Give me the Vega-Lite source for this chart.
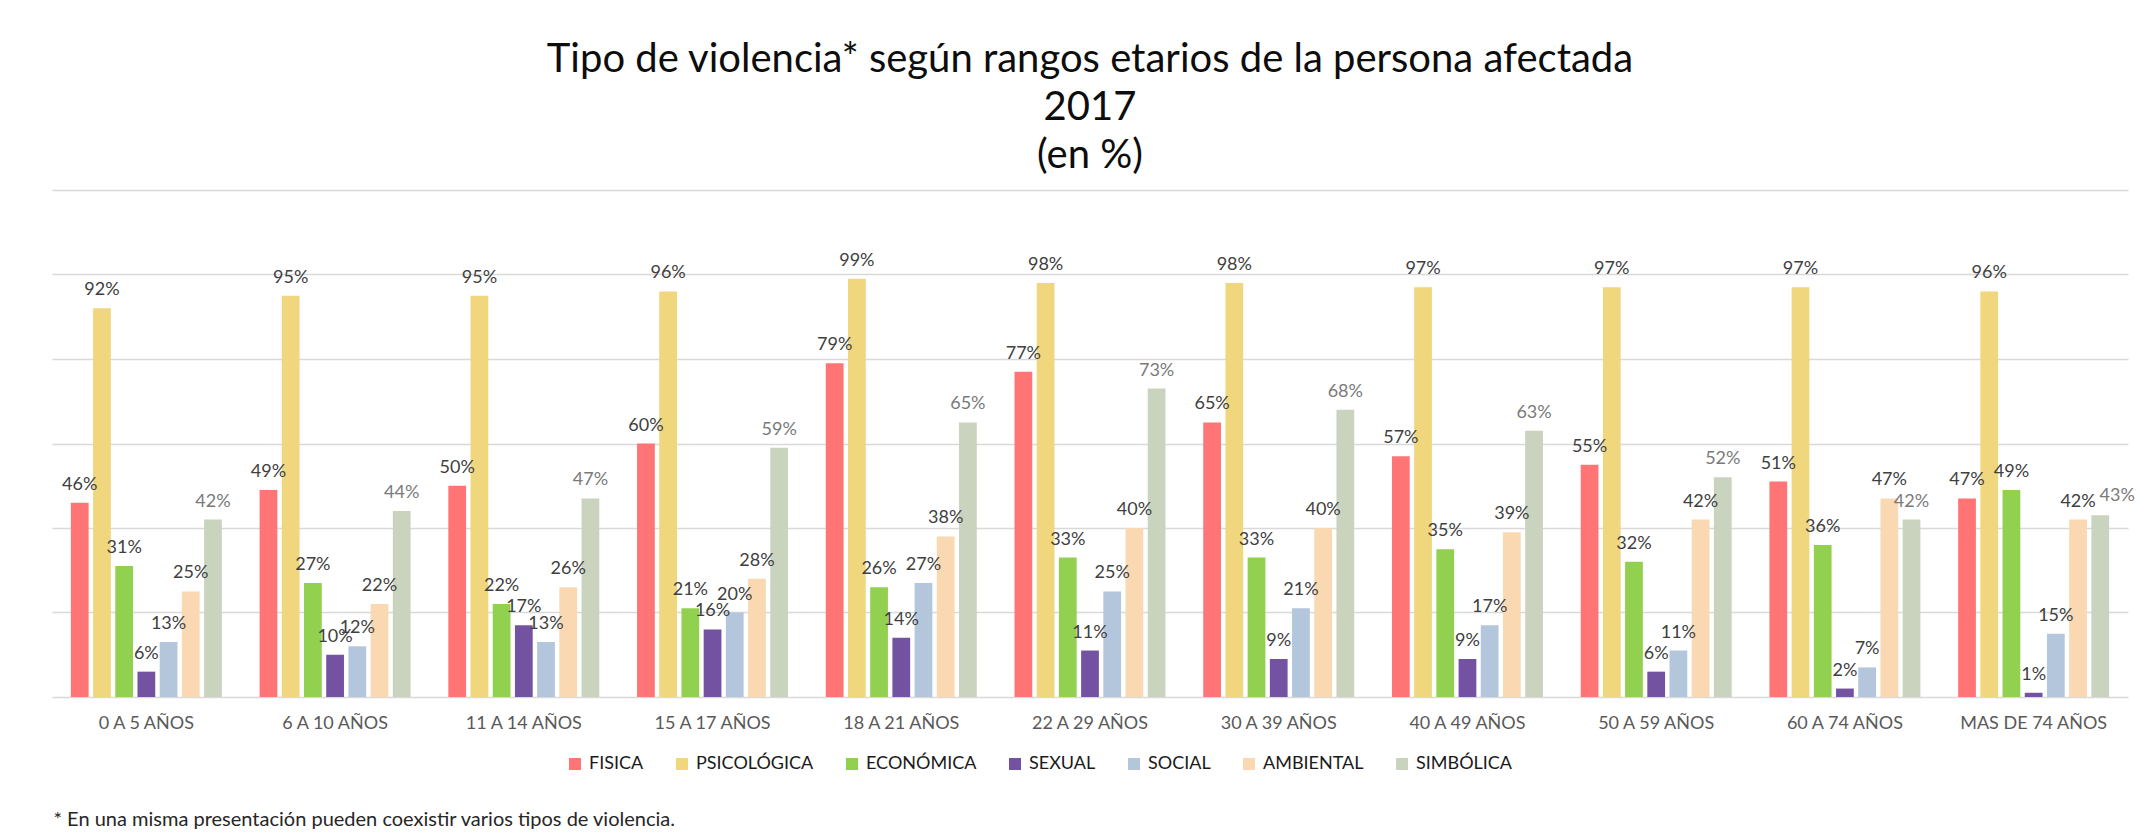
{
  "$schema": "https://vega.github.io/schema/vega-lite/v6.json",
  "autosize": "none",
  "width": 2076,
  "height": 507,
  "padding": {"left": 52, "top": 190, "right": 20, "bottom": 141},
  "background": "white",
  "title": {
    "text": ["Tipo de violencia* según rangos etarios de la persona afectada", "2017", "(en %)"],
    "font": "Lato",
    "fontSize": 40,
    "fontWeight": "normal",
    "color": "#0d0d0d",
    "lineHeight": 48,
    "anchor": "middle",
    "offset": 14
  },
  "config": {
    "view": {"stroke": null},
    "font": "Lato"
  },
  "data": {
    "values": [
      {"grupo": "0 A 5 AÑOS", "tipo": "FISICA", "valor": 0.46},
      {"grupo": "0 A 5 AÑOS", "tipo": "PSICOLÓGICA", "valor": 0.92},
      {"grupo": "0 A 5 AÑOS", "tipo": "ECONÓMICA", "valor": 0.31},
      {"grupo": "0 A 5 AÑOS", "tipo": "SEXUAL", "valor": 0.06},
      {"grupo": "0 A 5 AÑOS", "tipo": "SOCIAL", "valor": 0.13},
      {"grupo": "0 A 5 AÑOS", "tipo": "AMBIENTAL", "valor": 0.25},
      {"grupo": "0 A 5 AÑOS", "tipo": "SIMBÓLICA", "valor": 0.42},
      {"grupo": "6 A 10 AÑOS", "tipo": "FISICA", "valor": 0.49},
      {"grupo": "6 A 10 AÑOS", "tipo": "PSICOLÓGICA", "valor": 0.95},
      {"grupo": "6 A 10 AÑOS", "tipo": "ECONÓMICA", "valor": 0.27},
      {"grupo": "6 A 10 AÑOS", "tipo": "SEXUAL", "valor": 0.10},
      {"grupo": "6 A 10 AÑOS", "tipo": "SOCIAL", "valor": 0.12},
      {"grupo": "6 A 10 AÑOS", "tipo": "AMBIENTAL", "valor": 0.22},
      {"grupo": "6 A 10 AÑOS", "tipo": "SIMBÓLICA", "valor": 0.44},
      {"grupo": "11 A 14 AÑOS", "tipo": "FISICA", "valor": 0.50},
      {"grupo": "11 A 14 AÑOS", "tipo": "PSICOLÓGICA", "valor": 0.95},
      {"grupo": "11 A 14 AÑOS", "tipo": "ECONÓMICA", "valor": 0.22},
      {"grupo": "11 A 14 AÑOS", "tipo": "SEXUAL", "valor": 0.17},
      {"grupo": "11 A 14 AÑOS", "tipo": "SOCIAL", "valor": 0.13},
      {"grupo": "11 A 14 AÑOS", "tipo": "AMBIENTAL", "valor": 0.26},
      {"grupo": "11 A 14 AÑOS", "tipo": "SIMBÓLICA", "valor": 0.47},
      {"grupo": "15 A 17 AÑOS", "tipo": "FISICA", "valor": 0.60},
      {"grupo": "15 A 17 AÑOS", "tipo": "PSICOLÓGICA", "valor": 0.96},
      {"grupo": "15 A 17 AÑOS", "tipo": "ECONÓMICA", "valor": 0.21},
      {"grupo": "15 A 17 AÑOS", "tipo": "SEXUAL", "valor": 0.16},
      {"grupo": "15 A 17 AÑOS", "tipo": "SOCIAL", "valor": 0.20},
      {"grupo": "15 A 17 AÑOS", "tipo": "AMBIENTAL", "valor": 0.28},
      {"grupo": "15 A 17 AÑOS", "tipo": "SIMBÓLICA", "valor": 0.59},
      {"grupo": "18 A 21 AÑOS", "tipo": "FISICA", "valor": 0.79},
      {"grupo": "18 A 21 AÑOS", "tipo": "PSICOLÓGICA", "valor": 0.99},
      {"grupo": "18 A 21 AÑOS", "tipo": "ECONÓMICA", "valor": 0.26},
      {"grupo": "18 A 21 AÑOS", "tipo": "SEXUAL", "valor": 0.14},
      {"grupo": "18 A 21 AÑOS", "tipo": "SOCIAL", "valor": 0.27},
      {"grupo": "18 A 21 AÑOS", "tipo": "AMBIENTAL", "valor": 0.38},
      {"grupo": "18 A 21 AÑOS", "tipo": "SIMBÓLICA", "valor": 0.65},
      {"grupo": "22 A 29 AÑOS", "tipo": "FISICA", "valor": 0.77},
      {"grupo": "22 A 29 AÑOS", "tipo": "PSICOLÓGICA", "valor": 0.98},
      {"grupo": "22 A 29 AÑOS", "tipo": "ECONÓMICA", "valor": 0.33},
      {"grupo": "22 A 29 AÑOS", "tipo": "SEXUAL", "valor": 0.11},
      {"grupo": "22 A 29 AÑOS", "tipo": "SOCIAL", "valor": 0.25},
      {"grupo": "22 A 29 AÑOS", "tipo": "AMBIENTAL", "valor": 0.40},
      {"grupo": "22 A 29 AÑOS", "tipo": "SIMBÓLICA", "valor": 0.73},
      {"grupo": "30 A 39 AÑOS", "tipo": "FISICA", "valor": 0.65},
      {"grupo": "30 A 39 AÑOS", "tipo": "PSICOLÓGICA", "valor": 0.98},
      {"grupo": "30 A 39 AÑOS", "tipo": "ECONÓMICA", "valor": 0.33},
      {"grupo": "30 A 39 AÑOS", "tipo": "SEXUAL", "valor": 0.09},
      {"grupo": "30 A 39 AÑOS", "tipo": "SOCIAL", "valor": 0.21},
      {"grupo": "30 A 39 AÑOS", "tipo": "AMBIENTAL", "valor": 0.40},
      {"grupo": "30 A 39 AÑOS", "tipo": "SIMBÓLICA", "valor": 0.68},
      {"grupo": "40 A 49 AÑOS", "tipo": "FISICA", "valor": 0.57},
      {"grupo": "40 A 49 AÑOS", "tipo": "PSICOLÓGICA", "valor": 0.97},
      {"grupo": "40 A 49 AÑOS", "tipo": "ECONÓMICA", "valor": 0.35},
      {"grupo": "40 A 49 AÑOS", "tipo": "SEXUAL", "valor": 0.09},
      {"grupo": "40 A 49 AÑOS", "tipo": "SOCIAL", "valor": 0.17},
      {"grupo": "40 A 49 AÑOS", "tipo": "AMBIENTAL", "valor": 0.39},
      {"grupo": "40 A 49 AÑOS", "tipo": "SIMBÓLICA", "valor": 0.63},
      {"grupo": "50 A 59 AÑOS", "tipo": "FISICA", "valor": 0.55},
      {"grupo": "50 A 59 AÑOS", "tipo": "PSICOLÓGICA", "valor": 0.97},
      {"grupo": "50 A 59 AÑOS", "tipo": "ECONÓMICA", "valor": 0.32},
      {"grupo": "50 A 59 AÑOS", "tipo": "SEXUAL", "valor": 0.06},
      {"grupo": "50 A 59 AÑOS", "tipo": "SOCIAL", "valor": 0.11},
      {"grupo": "50 A 59 AÑOS", "tipo": "AMBIENTAL", "valor": 0.42},
      {"grupo": "50 A 59 AÑOS", "tipo": "SIMBÓLICA", "valor": 0.52},
      {"grupo": "60 A 74 AÑOS", "tipo": "FISICA", "valor": 0.51},
      {"grupo": "60 A 74 AÑOS", "tipo": "PSICOLÓGICA", "valor": 0.97},
      {"grupo": "60 A 74 AÑOS", "tipo": "ECONÓMICA", "valor": 0.36},
      {"grupo": "60 A 74 AÑOS", "tipo": "SEXUAL", "valor": 0.02},
      {"grupo": "60 A 74 AÑOS", "tipo": "SOCIAL", "valor": 0.07},
      {"grupo": "60 A 74 AÑOS", "tipo": "AMBIENTAL", "valor": 0.47},
      {"grupo": "60 A 74 AÑOS", "tipo": "SIMBÓLICA", "valor": 0.42},
      {"grupo": "MAS DE 74 AÑOS", "tipo": "FISICA", "valor": 0.47},
      {"grupo": "MAS DE 74 AÑOS", "tipo": "PSICOLÓGICA", "valor": 0.96},
      {"grupo": "MAS DE 74 AÑOS", "tipo": "ECONÓMICA", "valor": 0.49},
      {"grupo": "MAS DE 74 AÑOS", "tipo": "SEXUAL", "valor": 0.01},
      {"grupo": "MAS DE 74 AÑOS", "tipo": "SOCIAL", "valor": 0.15},
      {"grupo": "MAS DE 74 AÑOS", "tipo": "AMBIENTAL", "valor": 0.42},
      {"grupo": "MAS DE 74 AÑOS", "tipo": "SIMBÓLICA", "valor": 0.43}
    ]
  },
  "encoding": {
    "x": {
      "field": "grupo",
      "type": "nominal",
      "sort": null,
      "scale": {"paddingInner": 0.2, "paddingOuter": 0.1},
      "axis": {
        "title": "* En una misma presentación pueden coexistir varios tipos de violencia.",
        "titleFont": "Lato",
        "titleFontSize": 20,
        "titleFontWeight": "normal",
        "titleColor": "#262626",
        "titleAnchor": "start",
        "titleAlign": "left",
        "titleBaseline": "alphabetic",
        "titleX": 1,
        "titleY": 128,
        "labelAngle": 0,
        "labelFont": "Lato",
        "labelFontSize": 18,
        "labelColor": "#595959",
        "labelPadding": 17,
        "labelBaseline": "top",
        "ticks": false,
        "domain": false,
        "grid": false
      }
    },
    "xOffset": {
      "field": "tipo",
      "type": "nominal",
      "sort": ["FISICA", "PSICOLÓGICA", "ECONÓMICA", "SEXUAL", "SOCIAL", "AMBIENTAL", "SIMBÓLICA"],
      "scale": {"paddingInner": 0.2, "paddingOuter": 0}
    },
    "y": {
      "field": "valor",
      "type": "quantitative",
      "scale": {"domain": [0, 1.2], "nice": false},
      "axis": {
        "title": null,
        "values": [0, 0.2, 0.4, 0.6, 0.8, 1.0, 1.2],
        "labels": false,
        "ticks": false,
        "domain": false,
        "grid": true,
        "gridColor": "#d9d9d9",
        "gridWidth": 1.3
      }
    }
  },
  "layer": [
    {
      "mark": {"type": "bar"},
      "encoding": {
        "color": {
          "field": "tipo",
          "type": "nominal",
          "sort": ["FISICA", "PSICOLÓGICA", "ECONÓMICA", "SEXUAL", "SOCIAL", "AMBIENTAL", "SIMBÓLICA"],
          "scale": {
            "domain": ["FISICA", "PSICOLÓGICA", "ECONÓMICA", "SEXUAL", "SOCIAL", "AMBIENTAL", "SIMBÓLICA"],
            "range": ["#FF7575", "#F0D67C", "#92D050", "#7452A2", "#B4C6DC", "#FAD8B2", "#CAD3BE"]
          },
          "legend": {
            "title": null,
            "orient": "none",
            "direction": "horizontal",
            "legendX": 514,
            "legendY": 565,
            "symbolType": "square",
            "symbolSize": 144,
            "symbolStrokeWidth": 0,
            "symbolOpacity": 1,
            "labelFont": "Lato",
            "labelFontSize": 18,
            "labelColor": "#1a1a1a",
            "labelOffset": 5,
            "columnPadding": 29,
            "padding": 0
          }
        }
      }
    },
    {
      "transform": [{"filter": "!(datum.grupo === 'MAS DE 74 AÑOS' && datum.tipo === 'SIMBÓLICA')"}],
      "mark": {"type": "text", "baseline": "alphabetic", "dy": -13, "font": "Lato", "fontSize": 18},
      "encoding": {
        "text": {"field": "valor", "type": "quantitative", "format": ".0%"},
        "color": {
          "condition": {"test": "datum.tipo === 'SIMBÓLICA'", "value": "#7a7a7a"},
          "value": "#404040"
        }
      }
    },
    {
      "transform": [{"filter": "datum.grupo === 'MAS DE 74 AÑOS' && datum.tipo === 'SIMBÓLICA'"}],
      "mark": {"type": "text", "baseline": "alphabetic", "dy": -14, "dx": 17, "font": "Lato", "fontSize": 18, "color": "#7a7a7a"},
      "encoding": {
        "text": {"field": "valor", "type": "quantitative", "format": ".0%"}
      }
    }
  ]
}
